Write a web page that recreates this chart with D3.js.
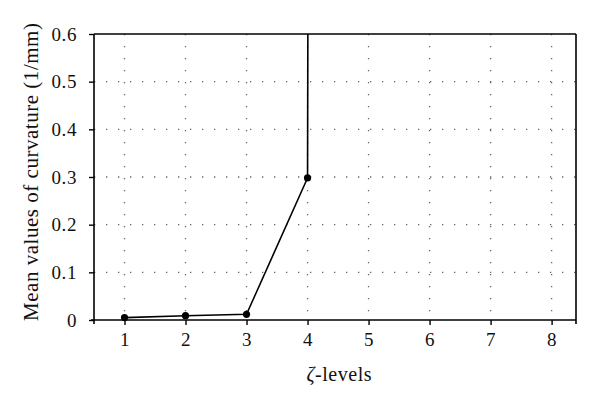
<!doctype html>
<html>
<head>
<style>
  body { margin: 0; background: white; }
  text { font-family: "Liberation Serif", serif; fill: #111; }
</style>
<script src="https://cdn.jsdelivr.net/npm/d3@7"></script>
</head>
<body>
<div id="chart"></div>
<script>
// data
var levels = [1, 2, 3, 4, 5];
var curvature = [0.005, 0.009, 0.012, 0.298, 60];   // last value is far off the scale, line is clipped
var xTicks = [1, 2, 3, 4, 5, 6, 7, 8];
var yTicks = [0, 0.1, 0.2, 0.3, 0.4, 0.5, 0.6];

var width = 600, height = 408;
var margin = {top: 34, right: 24, bottom: 88, left: 94};
var w = width - margin.left - margin.right,
    h = height - margin.top - margin.bottom;

var svg = d3.select("#chart").append("svg")
  .attr("width", width).attr("height", height);
var g = svg.append("g").attr("transform", "translate(" + margin.left + "," + margin.top + ")");

var x = d3.scaleLinear().domain([0.5, 8.4]).range([0, w]);
var y = d3.scaleLinear().domain([0, 0.6]).range([h, 0]);

// dotted grid
g.selectAll(".vgrid").data(xTicks).enter().append("line")
  .attr("x1", d => x(d)).attr("x2", d => x(d))
  .attr("y1", 0).attr("y2", h)
  .attr("stroke", "#666").attr("stroke-width", 1.3)
  .attr("stroke-dasharray", "1.3,10.7");
g.selectAll(".hgrid").data(yTicks.filter(d => d > 0 && d < 0.6)).enter().append("line")
  .attr("x1", 0).attr("x2", w)
  .attr("y1", d => y(d)).attr("y2", d => y(d))
  .attr("stroke", "#666").attr("stroke-width", 1.3)
  .attr("stroke-dasharray", "1.3,10.7");

// clip for the series
g.append("clipPath").attr("id", "clip").append("rect")
  .attr("x", 0).attr("y", 0).attr("width", w).attr("height", h);

var pts = levels.map((d, i) => [d, curvature[i]]);
var line = d3.line().x(d => x(d[0])).y(d => y(d[1]));
g.append("path").datum(pts)
  .attr("clip-path", "url(#clip)")
  .attr("d", line)
  .attr("fill", "none").attr("stroke", "#000").attr("stroke-width", 1.6);

g.selectAll(".pt").data(pts.filter(d => d[1] <= 0.6)).enter().append("circle")
  .attr("cx", d => x(d[0])).attr("cy", d => y(d[1]))
  .attr("r", 3.6).attr("fill", "#000");

// frame
var frame = g.append("g").attr("stroke", "#000").attr("stroke-width", 1.6);
frame.append("line").attr("x1", 0).attr("x2", 0).attr("y1", 0).attr("y2", h + 4);
frame.append("line").attr("x1", w).attr("x2", w).attr("y1", 0).attr("y2", h + 4);
frame.append("line").attr("x1", -3).attr("x2", w).attr("y1", h).attr("y2", h);
frame.append("line").attr("x1", 0).attr("x2", w).attr("y1", 0).attr("y2", 0);

// axes
var xAxis = g.append("g").attr("transform", "translate(0," + h + ")")
  .call(d3.axisBottom(x).tickValues(xTicks).tickFormat(d3.format("d")).tickSize(5).tickPadding(8));
var yAxis = g.append("g")
  .call(d3.axisLeft(y).tickValues(yTicks).tickFormat(d => d === 0 ? "0" : d3.format(".1f")(d)).tickSize(5).tickPadding(12));
[xAxis, yAxis].forEach(a => {
  a.select(".domain").remove();
  a.selectAll(".tick line").attr("stroke", "#000").attr("stroke-width", 1.4);
  a.selectAll("text").attr("font-size", 19).attr("letter-spacing", 0.6)
    .style("font-family", "Liberation Serif, serif").attr("fill", "#111");
});

// axis titles
svg.append("text")
  .attr("x", 339).attr("y", 381)
  .attr("text-anchor", "middle").attr("font-size", 20)
  .attr("textLength", 65).attr("lengthAdjust", "spacing")
  .html('<tspan font-style="italic">ζ</tspan>-levels');

svg.append("text")
  .attr("transform", "translate(38,172) rotate(-90)")
  .attr("text-anchor", "middle").attr("font-size", 21)
  .attr("textLength", 298).attr("lengthAdjust", "spacing")
  .text("Mean values of curvature (1/mm)");
</script>
</body>
</html>
